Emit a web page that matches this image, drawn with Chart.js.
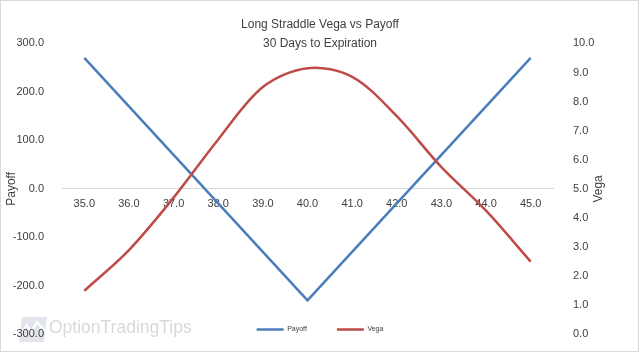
<!DOCTYPE html>
<html>
<head>
<meta charset="utf-8">
<script src="https://cdn.jsdelivr.net/npm/chart.js@4.4.1/dist/chart.umd.min.js"></script>
<style>
  html, body { margin: 0; padding: 0; background: #fff; }
  #wrap { width: 640px; height: 353px; position: relative; }
</style>
</head>
<body>
<div id="wrap"><canvas id="chart"></canvas></div>
<script>
// Underlying price at expiration (category axis)
const strikes = [35, 36, 37, 38, 39, 40, 41, 42, 43, 44, 45];
// Straddle payoff (left axis)
const payoff = [270, 170, 70, -30, -130, -230, -130, -30, 70, 170, 270];
// Straddle vega (right axis)
const vega = [1.5, 2.9, 4.7, 6.7, 8.5, 9.15, 8.85, 7.5, 5.75, 4.25, 2.5];

const titleLines = ['Long Straddle Vega vs Payoff', '30 Days to Expiration'];

const BLUE = '#4A7EBB';
const RED = '#BE4B48';
const TEXT = '#404040';
const FONT = "'Liberation Sans', Arial, sans-serif";

Chart.defaults.font.family = FONT;
Chart.defaults.color = TEXT;

// Excel-ish extras: frame, watermark, secondary axis title, legend sitting over the plot bottom
const chrome = {
    id: 'chrome',
    afterLayout(chart) {
        // legend overlaps the bottom of the plot area like the original
        chart.legend.top -= 38.5;
    },
    beforeDraw(chart) {
        const ctx = chart.ctx;
        ctx.save();
        ctx.strokeStyle = '#d9d9d9';
        ctx.lineWidth = 1;
        ctx.strokeRect(0.5, 0.5, chart.width - 2, chart.height - 2);

        // watermark logo
        ctx.fillStyle = '#e2e5eb';
        ctx.beginPath();
        ctx.moveTo(22, 317);
        ctx.lineTo(47, 317);
        ctx.lineTo(44, 342);
        ctx.lineTo(19, 342);
        ctx.closePath();
        ctx.fill();
        ctx.strokeStyle = '#ffffff';
        ctx.lineWidth = 2;
        ctx.beginPath();
        ctx.moveTo(21, 334);
        ctx.lineTo(27, 325);
        ctx.lineTo(31, 333);
        ctx.lineTo(37, 322);
        ctx.lineTo(45, 331);
        ctx.stroke();

        ctx.fillStyle = '#d9d9d9';
        ctx.font = '17.5px ' + FONT;
        ctx.textBaseline = 'middle';
        ctx.fillText('OptionTradingTips', 49, 328);
        ctx.restore();
    },
    afterDraw(chart) {
        const s = chart.scales.y2;
        const ctx = chart.ctx;
        ctx.save();
        ctx.translate(s.right - 41, (s.top + s.bottom) / 2);
        ctx.rotate(-Math.PI / 2);
        ctx.font = '12px ' + FONT;
        ctx.fillStyle = TEXT;
        ctx.textAlign = 'center';
        ctx.textBaseline = 'middle';
        ctx.fillText('Vega', 0, 0);
        ctx.restore();
    }
};

new Chart(document.getElementById('chart'), {
    type: 'line',
    data: {
        labels: strikes.map(s => s.toFixed(1)),
        datasets: [
            {
                label: 'Payoff',
                data: payoff,
                yAxisID: 'y',
                borderColor: BLUE,
                backgroundColor: BLUE,
                borderWidth: 2.5,
                pointRadius: 0,
                tension: 0,
                order: 1
            },
            {
                label: 'Vega',
                data: vega,
                yAxisID: 'y2',
                borderColor: RED,
                backgroundColor: RED,
                borderWidth: 2.5,
                pointRadius: 0,
                tension: 0.33,
                order: 0
            }
        ]
    },
    options: {
        responsive: true,
        maintainAspectRatio: false,
        animation: false,
        layout: { padding: 0 },
        scales: {
            x: {
                type: 'category',
                position: { y: 0 },
                offset: true,
                grid: { display: true, drawOnChartArea: false, drawTicks: false },
                border: { display: true, color: '#d9d9d9', width: 1 },
                ticks: { padding: 8, font: { size: 11 }, color: TEXT, maxRotation: 0, autoSkip: false }
            },
            y: {
                position: 'left',
                min: -300,
                max: 300,
                grid: { display: false },
                border: { display: false },
                ticks: {
                    stepSize: 100,
                    padding: 10,
                    font: { size: 11 },
                    color: TEXT,
                    callback: v => v.toFixed(1)
                },
                title: {
                    display: true,
                    text: 'Payoff',
                    color: TEXT,
                    font: { size: 12, lineHeight: 1.2 },
                    padding: { top: 4.5, bottom: 0 }
                },
                afterFit(scale) { scale.width = 62; }
            },
            y2: {
                position: 'right',
                min: 0,
                max: 10,
                grid: { display: false },
                border: { display: false },
                ticks: {
                    stepSize: 1,
                    padding: 12,
                    font: { size: 11 },
                    color: TEXT,
                    callback: v => v.toFixed(1)
                },
                afterFit(scale) { scale.width = 87; }
            }
        },
        plugins: {
            title: {
                display: true,
                text: titleLines,
                color: TEXT,
                font: { size: 12, weight: 'normal', lineHeight: 1.6 },
                padding: { top: 15, bottom: -10 }
            },
            legend: {
                position: 'bottom',
                maxHeight: 16,
                labels: {
                    usePointStyle: true,
                    pointStyle: 'line',
                    pointStyleWidth: 27,
                    padding: 30,
                    font: { size: 7 },
                    color: TEXT,
                    sort: (a, b) => a.datasetIndex - b.datasetIndex
                }
            },
            tooltip: { enabled: false }
        }
    },
    plugins: [chrome]
});
</script>
</body>
</html>
